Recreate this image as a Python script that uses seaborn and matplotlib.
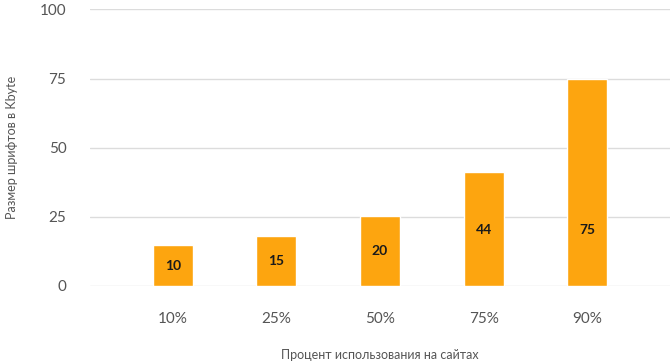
import matplotlib
matplotlib.use('Agg')
import matplotlib.pyplot as plt
import seaborn as sns
import pandas as pd

# данные
categories = ['10%', '25%', '50%', '75%', '90%']
bar_heights = [14.7, 18.0, 25.2, 41.1, 74.9]
bar_labels = ['10', '15', '20', '44', '75']
y_ticks = [0, 25, 50, 75, 100]

sns.set_style('white')
plt.rcParams['font.family'] = ['Lato', 'DejaVu Sans']

df = pd.DataFrame({'cat': categories, 'val': bar_heights})

fig = plt.figure(figsize=(6.7, 3.61), dpi=100)
ax = fig.add_axes([0.1343, 0.2078, 0.8657, 0.7659])

sns.barplot(data=df, x='cat', y='val', color='#FDA50F', saturation=1,
            width=0.386, ax=ax, zorder=3)

# подписи внутри столбцов
for i, (h, lab) in enumerate(zip(bar_heights, bar_labels)):
    ax.text(i, min(h / 2, 20.1), lab, ha='center', va='center',
            fontsize=10, fontweight='bold', color='#1a1a1a', zorder=4)

ax.set_xlim(-0.8, 4.8)
ax.set_ylim(0, 100)
ax.set_yticks(y_ticks)
ax.yaxis.grid(True, color='#dcdcdc', linewidth=1)
ax.set_axisbelow(True)
for s in ax.spines.values():
    s.set_visible(False)
ax.tick_params(axis='both', length=0, colors='#555555', labelsize=11)
ax.tick_params(axis='x', pad=19)
ax.tick_params(axis='y', pad=17)

ax.set_xlabel('Процент использования на сайтах', fontsize=9, color='#555555', labelpad=16)
ax.set_ylabel('Размер шрифтов в Kbyte', fontsize=9, color='#555555', labelpad=16)

fig.savefig('out.png', dpi=100)
